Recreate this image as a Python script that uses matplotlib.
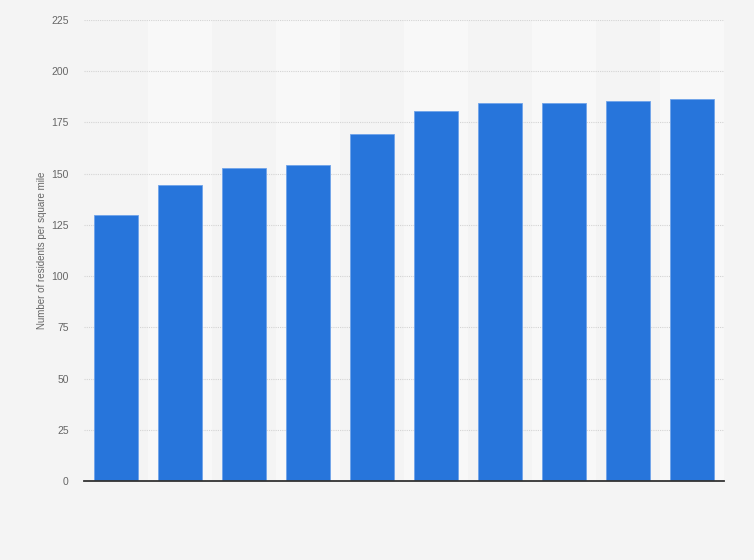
import matplotlib
matplotlib.use("Agg")
import matplotlib.pyplot as plt

# residents per square mile, one bar per year (no x labels in the source)
positions = list(range(10))
density = [129.8, 144.4, 152.7, 154.1, 169.3, 180.7, 184.4, 184.5, 185.6, 186.4]
yticks = [0, 25, 50, 75, 100, 125, 150, 175, 200, 225]

plt.rcParams['font.family'] = ['Liberation Sans', 'DejaVu Sans']

fig = plt.figure(figsize=(7.54, 5.6), dpi=100, facecolor="#f4f4f4")
ax = fig.add_axes([84/754, 79/560, 640/754, 461/560])
ax.set_facecolor("#f4f4f4")

# alternating lighter column bands
for i in positions:
    if i % 2 == 1:
        ax.axvspan(i - 0.5, i + 0.5, color="#f8f8f8", zorder=0, lw=0)

ax.bar(positions, density, width=0.69, color="#2775db",
       edgecolor="#6fa3ea", linewidth=0.6, zorder=3)

ax.set_xlim(-0.5, 9.5)
ax.set_ylim(0, 225)
ax.set_yticks(yticks)
ax.set_xticks([])
ax.yaxis.grid(True, linestyle=(0, (1, 1)), color="#d4d4d4", linewidth=0.8, zorder=1)
ax.set_axisbelow(True)

for s in ["top", "right", "left"]:
    ax.spines[s].set_visible(False)
ax.spines["bottom"].set_color("#333333")
ax.spines["bottom"].set_linewidth(1.3)
ax.spines["bottom"].set_zorder(4)

ax.tick_params(axis="y", length=0, pad=11, labelsize=7.5, labelcolor="#666666")
ax.set_ylabel("Number of residents per square mile", fontsize=7, color="#666666", labelpad=3)

fig.savefig("out.png", dpi=100, facecolor=fig.get_facecolor())
